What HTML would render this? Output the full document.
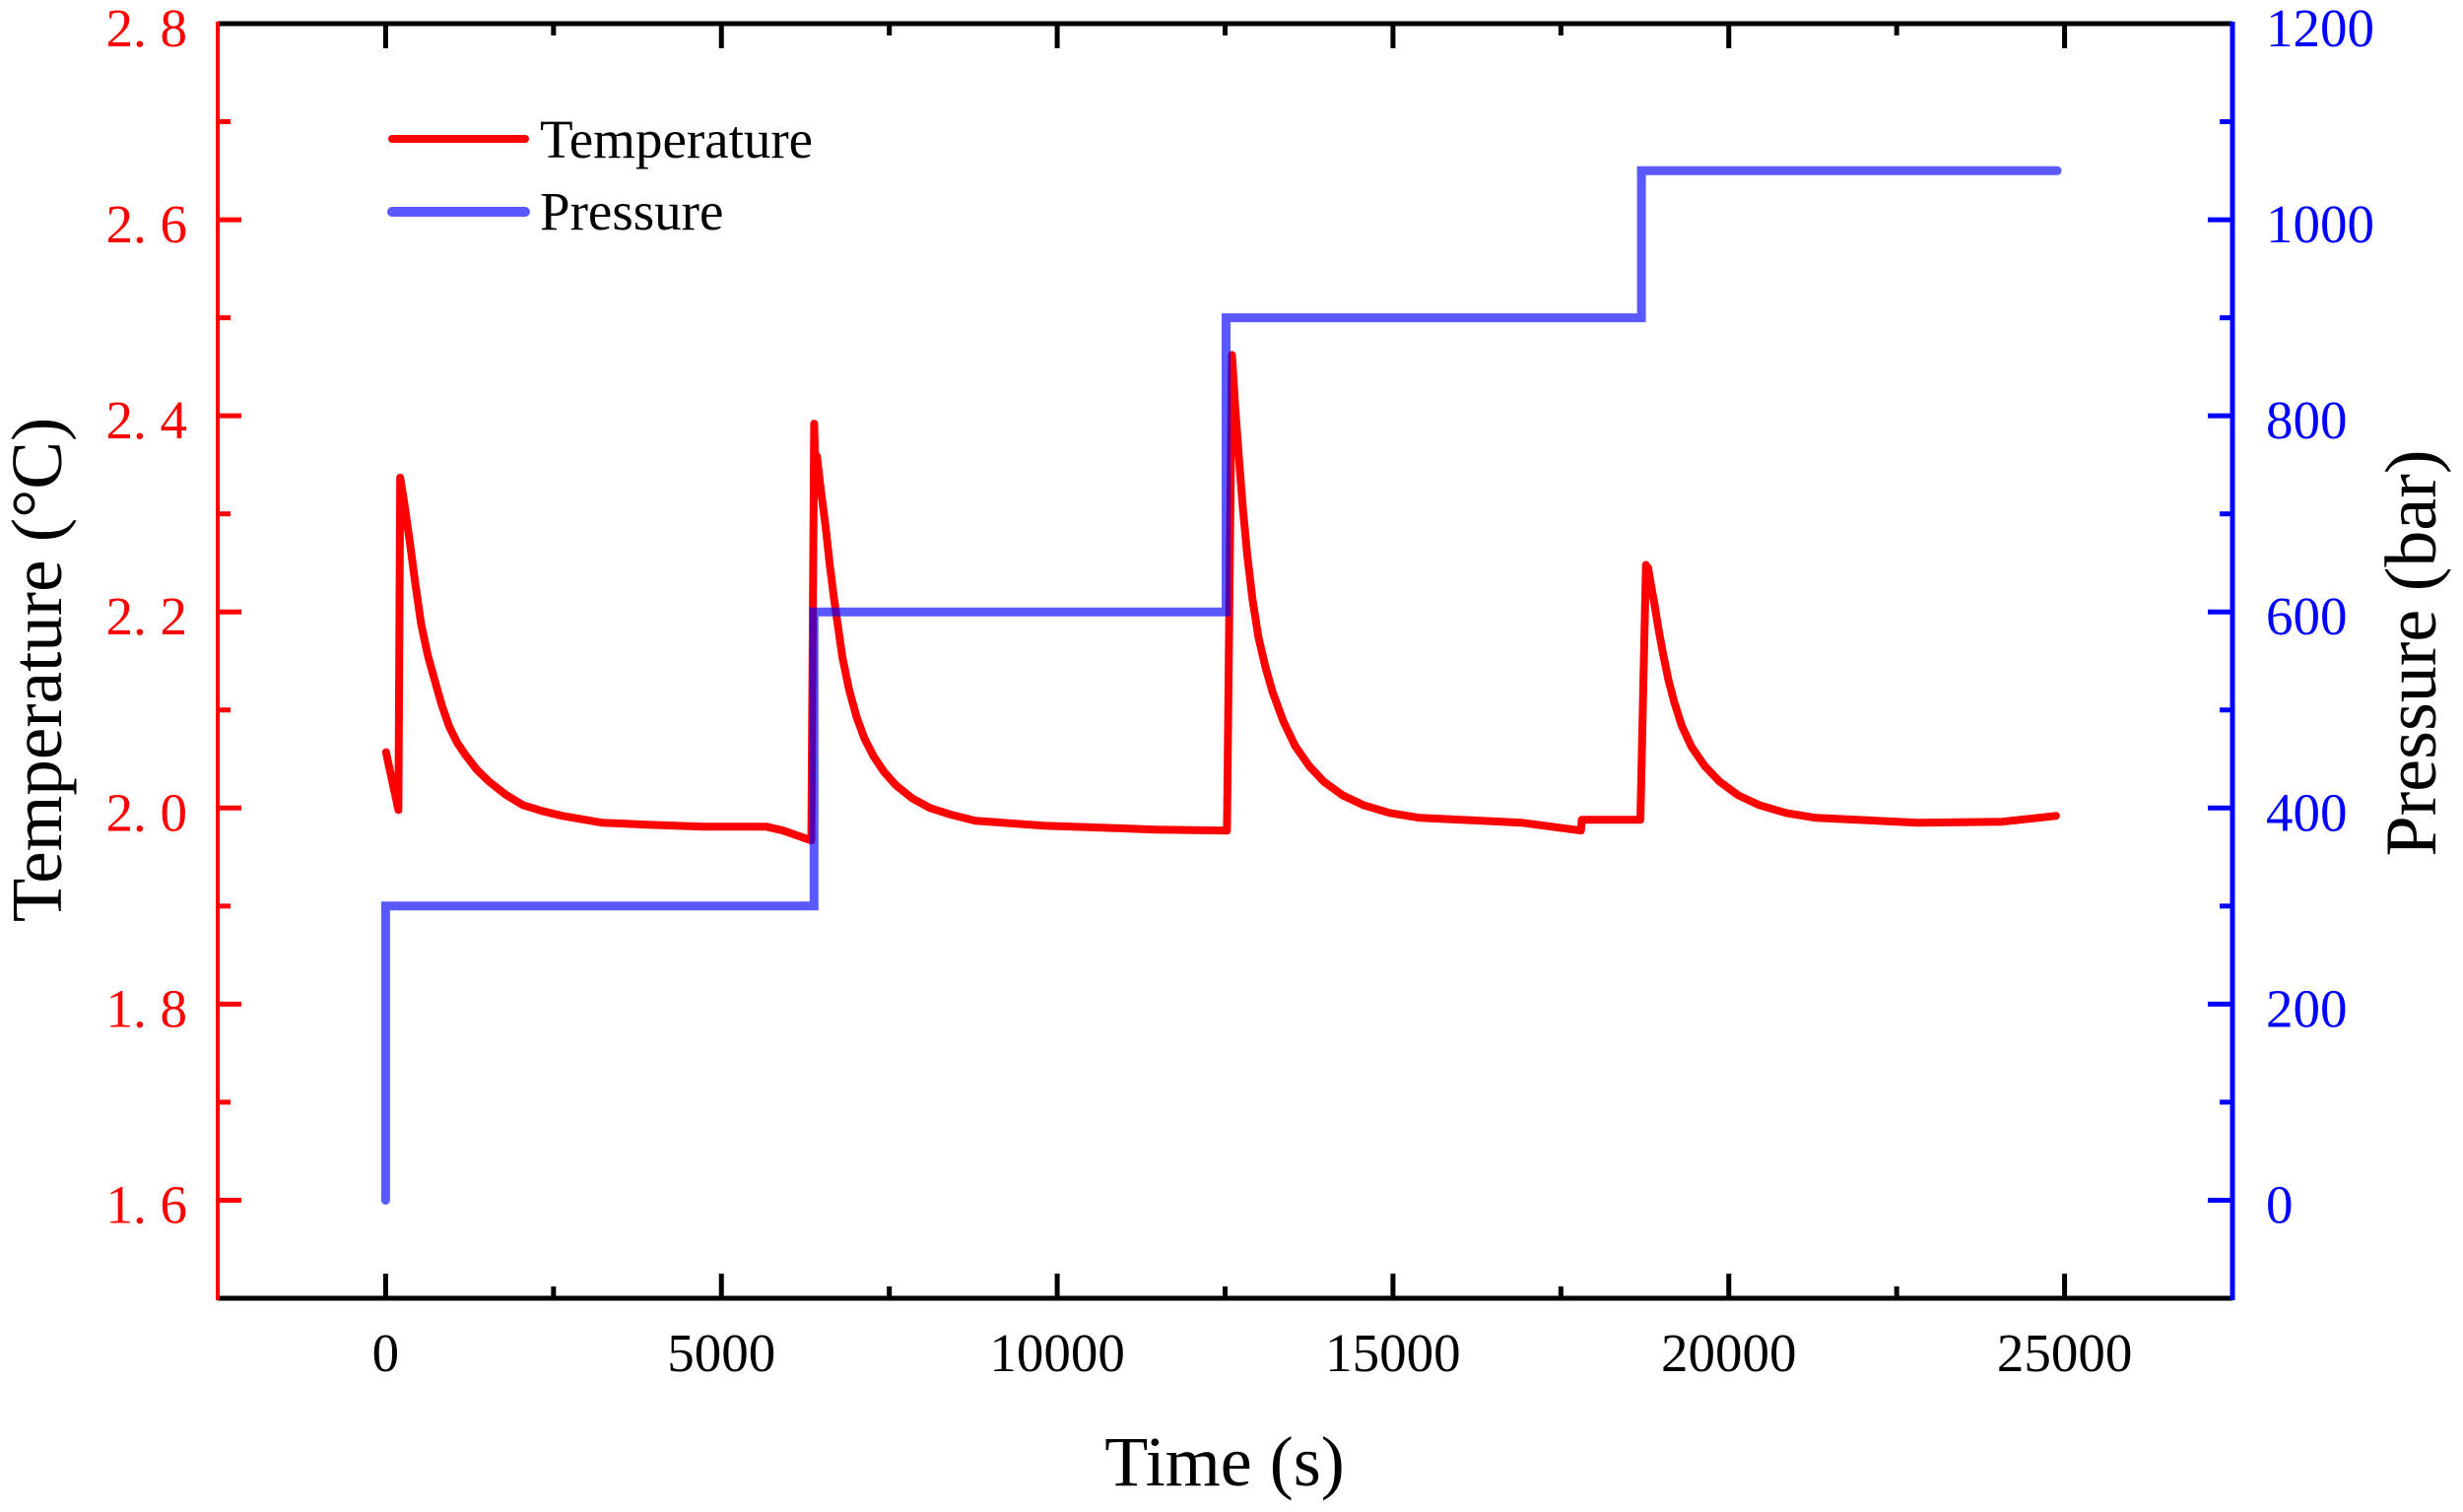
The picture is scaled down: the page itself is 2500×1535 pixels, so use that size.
<!DOCTYPE html>
<html><head><meta charset="utf-8"><style>
html,body{margin:0;padding:0;background:#fff;}
svg{display:block;font-family:"Liberation Serif",serif;}
</style></head><body>
<svg id="chart" width="2500" height="1535" viewBox="0 0 2500 1535" xmlns="http://www.w3.org/2000/svg">
<g id="ticks"></g>
<g id="series"></g>
<g id="frame">
<line x1="221" y1="24" x2="2266" y2="24" stroke="#000" stroke-width="5"/>
<line x1="221" y1="1318" x2="2266" y2="1318" stroke="#000" stroke-width="5"/>
<line x1="221" y1="22" x2="221" y2="1320" stroke="#ff0000" stroke-width="4"/>
<line x1="2266" y1="22" x2="2266" y2="1320" stroke="#0000ff" stroke-width="5"/>
</g>
<g id="labels"></g>
<text x="1243" y="1508" font-size="72" text-anchor="middle">Time (s)</text>
<text transform="translate(62,680) rotate(-90)" font-size="73" text-anchor="middle">Temperature (°C)</text>
<text transform="translate(2472,663) rotate(-90)" font-size="74" text-anchor="middle">Pressure (bar)</text>
<g>
<g>
<line x1="398" y1="141" x2="533" y2="141" stroke="#ff0000" stroke-width="8" stroke-linecap="round"/>
<text x="548" y="160" font-size="55">Temperature</text>
</g>
<g>
<line x1="398" y1="215" x2="533" y2="215" stroke="rgba(0,0,255,0.65)" stroke-width="10" stroke-linecap="round"/>
<text x="548" y="233" font-size="55">Pressure</text>
</g>
</g>
</svg>
<script>
const tempTime = [5,190,217,280,360,440,528,630,740,840,948,1070,1201,1360,1539,1780,2043,2330,2633,3221,3896,4733,5665,5918,6339,6381,6401,6422,6480,6550,6610,6676,6740,6801,6900,7012,7130,7264,7420,7602,7840,8106,8430,8781,9793,11476,12528,12603,12650,12704,12765,12830,12910,12998,13100,13208,13370,13546,13750,13967,14250,14556,14950,15397,16914,17799,17810,18683,18767,18780,18800,18840,18893,18955,19020,19100,19188,19300,19440,19640,19862,20140,20451,20850,21294,22810,24072,24873];
const tempValue = [2.057,1.998,2.337,2.31,2.271,2.23,2.188,2.155,2.128,2.104,2.083,2.066,2.053,2.039,2.027,2.014,2.003,1.997,1.992,1.985,1.983,1.981,1.981,1.977,1.967,2.392,2.34,2.359,2.325,2.288,2.25,2.214,2.183,2.154,2.121,2.093,2.071,2.053,2.037,2.023,2.010,2.000,1.993,1.987,1.982,1.978,1.977,2.462,2.41,2.359,2.305,2.258,2.212,2.174,2.144,2.118,2.088,2.063,2.043,2.027,2.013,2.003,1.995,1.990,1.985,1.977,1.988,1.988,2.248,2.238,2.245,2.228,2.208,2.182,2.158,2.131,2.108,2.084,2.063,2.043,2.027,2.013,2.003,1.995,1.990,1.985,1.986,1.992];
const pressTime = [0,0,6380,6380,12515,12515,18700,18700,24890];
const pressValue = [0,300,300,600,600,900,900,1050,1050];
const xTicks = [0,5000,10000,15000,20000,25000];
const xTickLabels = ["0","5000","10000","15000","20000","25000"];
const tTicks = [1.6,1.8,2.0,2.2,2.4,2.6,2.8];
const tTickLabels = ["1. 6","1. 8","2. 0","2. 2","2. 4","2. 6","2. 8"];
const pTicks = [0,200,400,600,800,1000,1200];
const pTickLabels = ["0","200","400","600","800","1000","1200"];

const X0=221,X1=2266,Y0=24,Y1=1318;
const xMin=-2500,xMax=27500,tMin=1.5,tMax=2.8,pMin=-100,pMax=1200;
const xs=v=>X0+(v-xMin)/(xMax-xMin)*(X1-X0);
const ts=v=>Y1-(v-tMin)/(tMax-tMin)*(Y1-Y0);
const ps=v=>Y1-(v-pMin)/(pMax-pMin)*(Y1-Y0);
const NS="http://www.w3.org/2000/svg";
function mk(tag,attrs,parent){const e=document.createElementNS(NS,tag);for(const k in attrs)e.setAttribute(k,attrs[k]);parent.appendChild(e);return e;}
const gT=document.getElementById('ticks'),gS=document.getElementById('series'),gL=document.getElementById('labels');

for(let v=0;v<=27500;v+=2500){
  const major=v%5000===0, len=major?25:12, x=xs(v);
  let a=mk('line',{x1:x,y1:Y1,x2:x,y2:Y1-len,stroke:'#000','stroke-width':5},gT);
  
  
  let b=mk('line',{x1:x,y1:Y0,x2:x,y2:Y0+len,stroke:'#000','stroke-width':5},gT);
  
  
}
xTicks.forEach((v,i)=>{
  const t=mk('text',{x:xs(v),y:1392,'font-size':55,'text-anchor':'middle'},gL);
  t.textContent=xTickLabels[i];
  
  
});
for(let i=0;i<=13;i++){
  const v=1.5+i*0.1, major=(i%2===1), y=ts(v);
  const l=mk('line',{x1:X0,y1:y,x2:X0+(major?24:13),y2:y,stroke:'#ff0000','stroke-width':5},gT);
  
  
}
tTicks.forEach((v,i)=>{
  const t=mk('text',{x:190,y:ts(v)+23,'font-size':55,'text-anchor':'end',fill:'#ff0000'},gL);
  t.textContent=tTickLabels[i];
  
  
});
for(let v=-100;v<=1200;v+=100){
  const major=(v%200===0), y=ps(v);
  const l=mk('line',{x1:X1,y1:y,x2:X1-(major?25:13),y2:y,stroke:'#0000ff','stroke-width':5},gT);
  
  
}
pTicks.forEach((v,i)=>{
  const t=mk('text',{x:2300,y:ps(v)+23,'font-size':55,fill:'#0000ff'},gL);
  t.textContent=pTickLabels[i];
  
  
});
const tp=mk('path',{d:tempTime.map((t,i)=>(i?'L':'M')+xs(t).toFixed(1)+' '+ts(tempValue[i]).toFixed(1)).join(''),fill:'none',stroke:'#ff0000','stroke-width':8,'stroke-linejoin':'round','stroke-linecap':'round'},gS);


const pp=mk('path',{d:pressTime.map((t,i)=>(i?'L':'M')+xs(t).toFixed(1)+' '+ps(pressValue[i]).toFixed(1)).join(''),fill:'none',stroke:'rgba(0,0,255,0.65)','stroke-width':9,'stroke-linejoin':'miter','stroke-linecap':'round'},gS);


</script>
</body></html>
